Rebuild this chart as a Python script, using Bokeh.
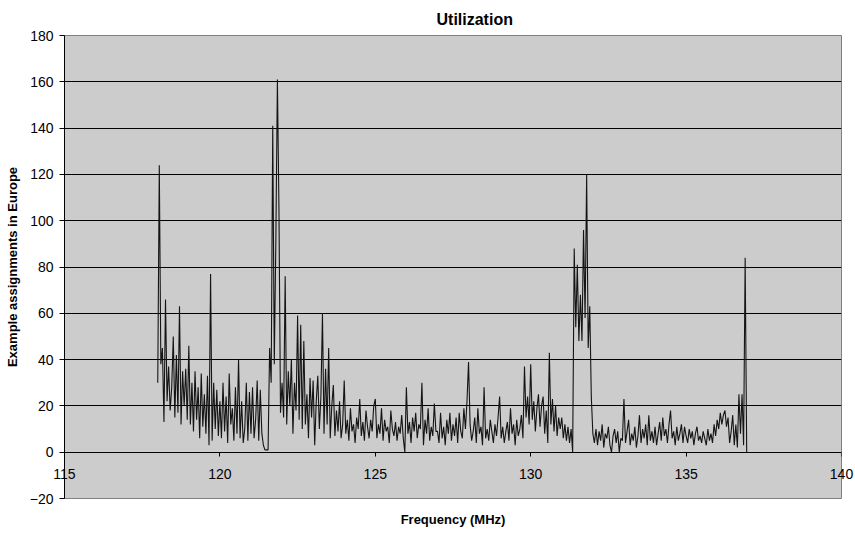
from bokeh.plotting import figure
from bokeh.models import FixedTicker, LinearAxis, Range1d
from bokeh.embed import file_html
from bokeh.resources import INLINE

# Channel grid (MHz)
freq_start = 118.0
freq_step = 0.05

# Example assignments per channel, one list per MHz (x.00 .. x.95)
util_118 = [30, 124, 38, 45, 13, 66, 22, 37, 18, 28, 50, 15, 42, 17, 63, 12, 35, 20, 36, 14]
util_119 = [46, 12, 30, 9, 35, 14, 28, 6, 34, 11, 25, 8, 33, 3, 77, 5, 30, 10, 27, 7]
util_120 = [22, 6, 30, 9, 24, 4, 34, 12, 19, 5, 28, 8, 40, 6, 22, 4, 10, 30, 5, 26]
util_121 = [8, 28, 6, 14, 31, 5, 27, 8, 3, 1, 1, 1, 45, 30, 141, 38, 91, 161, 105, 17]
util_122 = [30, 15, 76, 12, 35, 20, 40, 8, 30, 18, 59, 14, 55, 10, 48, 12, 25, 6, 32, 15]
util_123 = [31, 3, 22, 33, 10, 24, 60, 8, 36, 12, 45, 6, 20, 29, 7, 18, 9, 22, 6, 12]
util_124 = [31, 8, 14, 5, 19, 9, 12, 4, 15, 10, 23, 7, 13, 5, 18, 11, 6, 14, 9, 20]
util_125 = [23, 6, 12, 8, 19, 5, 14, 9, 11, 4, 18, 10, 7, 13, 5, 11, 8, 16, 6, 0]
util_126 = [28, 8, 13, 4, 15, 9, 17, 6, 12, 10, 30, 3, 14, 8, 19, 5, 11, 7, 21, 9]
util_127 = [9, 4, 17, 6, 11, 3, 14, 8, 17, 5, 12, 7, 15, 4, 17, 9, 6, 19, 10, 22]
util_128 = [39, 12, 5, 9, 15, 4, 19, 8, 11, 3, 28, 6, 10, 5, 14, 9, 4, 12, 7, 15]
util_129 = [24, 6, 11, 4, 9, 13, 5, 19, 8, 12, 3, 14, 7, 10, 16, 6, 37, 15, 24, 12]
util_130 = [38, 14, 22, 9, 19, 25, 11, 20, 24, 8, 18, 4, 43, 12, 23, 9, 20, 7, 15, 10]
util_131 = [15, 6, 12, 5, 11, 4, 10, 0, 88, 54, 81, 48, 68, 48, 96, 58, 120, 45, 63, 24]
util_132 = [8, 4, 10, 3, 9, 5, 12, 2, 8, 6, 11, 3, 0, 7, 10, 4, 9, 0, 6, 5]
util_133 = [23, 4, 9, 14, 3, 8, 5, 11, 2, 7, 16, 4, 10, 6, 12, 3, 16, 5, 9, 4]
util_134 = [11, 3, 8, 13, 5, 15, 7, 10, 4, 12, 18, 6, 9, 3, 11, 5, 8, 12, 4, 11]
util_135 = [7, 4, 10, 6, 9, 3, 8, 11, 5, 7, 4, 9, 6, 3, 10, 5, 8, 4, 12, 7]
util_136 = [14, 10, 17, 12, 16, 18, 11, 15, 4, 9, 16, 3, 12, 2, 25, 8, 25, 3, 84, 0]

x_ticks = [115, 120, 125, 130, 135, 140]
y_ticks = [-20, 0, 20, 40, 60, 80, 100, 120, 140, 160, 180]
grid_ticks = [20, 40, 60, 80, 100, 120, 140, 160]

title_text = "Utilization"
x_title = "Frequency (MHz)"
y_title = "Example assignments in Europe"

utilization = (util_118 + util_119 + util_120 + util_121 + util_122 + util_123 +
               util_124 + util_125 + util_126 + util_127 + util_128 + util_129 +
               util_130 + util_131 + util_132 + util_133 + util_134 + util_135 +
               util_136)
frequency = [round(freq_start + i * freq_step, 3) for i in range(len(utilization))]

FONT = "Liberation Sans"

p = figure(width=855, height=536, x_range=Range1d(115, 140), y_range=Range1d(-20, 180),
           output_backend="svg", toolbar_location=None,
           min_border_left=64, min_border_right=14, min_border_top=34, min_border_bottom=38)

p.background_fill_color = "#CCCCCC"
p.border_fill_color = "white"
p.outline_line_color = "#808080"
p.outline_line_width = 1

p.title.text = title_text
p.title.align = "left"
p.title.offset = 372
p.title.text_font = FONT
p.title.text_font_size = "16px"
p.title.text_font_style = "bold"
p.title.text_color = "black"
p.title.standoff = 16

p.xgrid.visible = False
p.ygrid.ticker = FixedTicker(ticks=grid_ticks)
p.ygrid.grid_line_color = "black"
p.ygrid.grid_line_width = 1

# y axis
yax = p.yaxis[0]
yax.ticker = FixedTicker(ticks=y_ticks)
yax.major_label_overrides = {-20: "\u221220"}
yax.minor_tick_line_color = None
yax.major_tick_in = 0
yax.major_tick_out = 5
yax.major_tick_line_color = "black"
yax.axis_line_color = "black"
yax.axis_line_width = 1
yax.major_label_standoff = 6
yax.major_label_text_font = FONT
yax.major_label_text_font_size = "14px"
yax.major_label_text_color = "black"
yax.axis_label = y_title
yax.axis_label_text_font = FONT
yax.axis_label_text_font_size = "13px"
yax.axis_label_text_font_style = "bold"
yax.axis_label_text_color = "black"
yax.axis_label_standoff = 7

# x axis: labels (lifted up to sit under the zero line) and title
xax = p.xaxis[0]
xax.ticker = FixedTicker(ticks=x_ticks)
xax.minor_tick_line_color = None
xax.major_tick_line_color = None
xax.major_tick_in = 0
xax.major_tick_out = 0
xax.axis_line_color = None
xax.major_label_standoff = -30
xax.major_label_text_font = FONT
xax.major_label_text_font_size = "14px"
xax.major_label_text_color = "black"
xax.axis_label = x_title
xax.axis_label_text_font = FONT
xax.axis_label_text_font_size = "13px"
xax.axis_label_text_font_style = "bold"
xax.axis_label_text_color = "black"
xax.axis_label_standoff = 30

# x axis line and ticks crossing at y = 0
zero_ax = LinearAxis(fixed_location=0, ticker=FixedTicker(ticks=x_ticks))
zero_ax.minor_tick_line_color = None
zero_ax.major_tick_in = 0
zero_ax.major_tick_out = 4
zero_ax.major_tick_line_color = "black"
zero_ax.axis_line_color = "black"
zero_ax.axis_line_width = 1
zero_ax.major_label_text_font_size = "0px"
zero_ax.major_label_text_color = None
zero_ax.major_label_standoff = 0
p.add_layout(zero_ax, "below")

p.line(frequency, utilization, line_color="#141414", line_width=1.1)

open("out.html", "w").write(file_html(p, INLINE))
